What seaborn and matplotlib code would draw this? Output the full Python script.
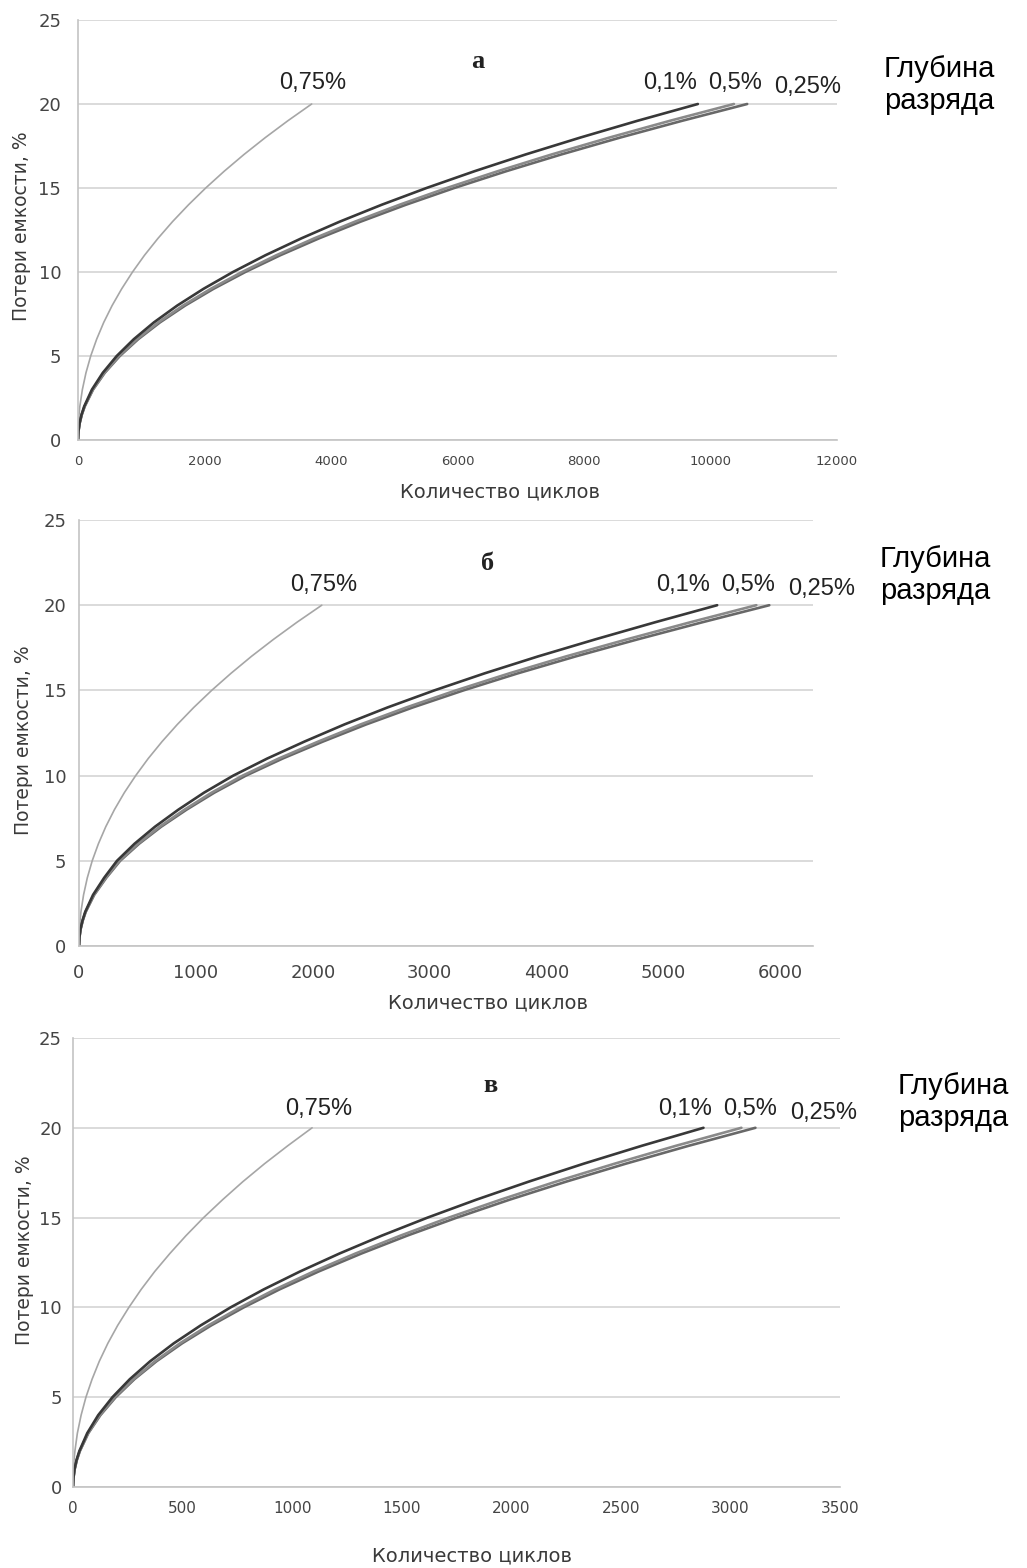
import numpy as np
import pandas as pd
import matplotlib
matplotlib.use("Agg")
import matplotlib.pyplot as plt
import seaborn as sns

# capacity loss levels, % (shared by all curves)
loss_levels = [0, 0.5, 1, 1.5, 2, 3, 4, 5, 6, 7, 8, 9, 10, 11, 12, 13, 14, 15, 16, 17, 18, 19, 20]

# cycles needed to reach each loss level, panel "а"
a_cycles_01 = [0, 6, 25, 55, 98, 220, 392, 612, 882, 1200, 1568, 1985, 2450, 2965, 3530, 4140, 4800, 5510, 6270, 7080, 7940, 8845, 9800]
a_cycles_05 = [0, 6.5, 26, 58, 104, 233, 415, 648, 933, 1270, 1659, 2100, 2593, 3137, 3733, 4381, 5081, 5831, 6637, 7492, 8400, 9359, 10370]
a_cycles_025 = [0, 6.6, 26, 59, 106, 238, 423, 661, 952, 1296, 1693, 2143, 2645, 3200, 3809, 4470, 5182, 5949, 6771, 7644, 8570, 9551, 10580]
a_cycles_075 = [0, 1.6, 6.9, 16, 29, 69, 126, 201, 295, 407, 539, 691, 862, 1052, 1264, 1495, 1747, 2019, 2312, 2626, 2961, 3317, 3694]

# panel "б"
b_cycles_01 = [0, 3.3, 13, 30, 53, 120, 215, 325, 475, 650, 850, 1070, 1320, 1610, 1930, 2270, 2640, 3040, 3470, 3930, 4420, 4930, 5460]
b_cycles_05 = [0, 3.5, 14, 32, 56, 127, 228, 345, 504, 690, 902, 1135, 1400, 1708, 2048, 2408, 2801, 3225, 3682, 4170, 4690, 5231, 5795]
b_cycles_025 = [0, 3.6, 14, 32, 57, 130, 233, 352, 514, 703, 920, 1158, 1428, 1742, 2088, 2456, 2856, 3289, 3754, 4252, 4782, 5334, 5906]
b_cycles_075 = [0, 0.9, 3.9, 9, 16.5, 39, 71, 113, 166, 229, 303, 388, 485, 592, 711, 841, 982, 1135, 1300, 1476, 1665, 1865, 2077]

# panel "в"
c_cycles_01 = [0, 1.8, 7, 16, 29, 65, 115, 180, 259, 352, 460, 583, 719, 870, 1036, 1216, 1410, 1618, 1841, 2079, 2330, 2596, 2877]
c_cycles_05 = [0, 1.9, 7.6, 17, 31, 69, 122, 191, 275, 374, 488, 618, 763, 922, 1098, 1289, 1495, 1715, 1952, 2203, 2471, 2752, 3050]
c_cycles_025 = [0, 1.9, 7.8, 17.5, 31, 70, 125, 195, 280, 381, 498, 631, 779, 942, 1121, 1316, 1526, 1752, 1993, 2250, 2522, 2810, 3114]
c_cycles_075 = [0, 0.5, 2, 4.7, 8.7, 20, 37, 59, 87, 120, 159, 204, 255, 311, 373, 442, 516, 596, 683, 775, 874, 980, 1091]

panel_letters = ["а", "б", "в"]
depth_labels = ["0,1%", "0,5%", "0,25%", "0,75%"]
y_ticks = [0, 5, 10, 15, 20, 25]
a_x_ticks = [0, 2000, 4000, 6000, 8000, 10000, 12000]
b_x_ticks = [0, 1000, 2000, 3000, 4000, 5000, 6000]
c_x_ticks = [0, 500, 1000, 1500, 2000, 2500, 3000, 3500]

sns.set_style("white")
plt.rcParams["font.family"] = ["DejaVu Sans"]

W, H = 1027, 1568
fig = plt.figure(figsize=(W / 100, H / 100), dpi=100)

def px_box(left, right, top, bottom):
    return [left / W, 1 - bottom / H, (right - left) / W, (bottom - top) / H]

panels = [
    dict(box=px_box(78, 837, 20, 440), xmax=12000, xticks=a_x_ticks, xfs=9.5, xpad=11, ypad=12,
         data=[a_cycles_01, a_cycles_05, a_cycles_025, a_cycles_075],
         letter=(478, 62), lab_y=83, lab_x=[313, 670, 735, 808], depth=(939, 85),
         xlab=(500, 492), ylab=(22, 226)),
    dict(box=px_box(79, 813, 520, 946), xmax=6280, xticks=b_x_ticks, xfs=13, xpad=13, ypad=9,
         data=[b_cycles_01, b_cycles_05, b_cycles_025, b_cycles_075],
         letter=(488, 563), lab_y=585, lab_x=[324, 683, 748, 822], depth=(935, 575),
         xlab=(488, 1003), ylab=(24, 740)),
    dict(box=px_box(73, 840, 1038, 1487), xmax=3500, xticks=c_x_ticks, xfs=11, xpad=10, ypad=8,
         data=[c_cycles_01, c_cycles_05, c_cycles_025, c_cycles_075],
         letter=(490, 1085), lab_y=1109, lab_x=[319, 685, 750, 824], depth=(953, 1102),
         xlab=(472, 1556), ylab=(25, 1250)),
]

# line styles: 0.1% dark, 0.5% / 0.25% mid grey, 0.75% light grey
line_colors = ["#383838", "#8a8a8a", "#686868", "#a6a6a6"]
line_widths = [1.9, 1.9, 1.9, 1.2]
draw_order = [3, 2, 1, 0]

for p, letter in zip(panels, panel_letters):
    ax = fig.add_axes(p["box"])
    for i in draw_order:
        df = pd.DataFrame({"cycles": p["data"][i], "loss": loss_levels})
        sns.lineplot(data=df, x="cycles", y="loss", ax=ax, color=line_colors[i],
                     linewidth=line_widths[i], estimator=None, sort=False)
    ax.set_xlim(0, p["xmax"])
    ax.set_ylim(0, 25)
    ax.set_xticks(p["xticks"])
    ax.set_yticks(y_ticks)
    ax.set_xlabel("")
    ax.set_ylabel("")
    ax.yaxis.grid(True, color="#d4d4d4", linewidth=1.2)
    ax.xaxis.grid(False)
    for s in ["top", "right"]:
        ax.spines[s].set_visible(False)
    for s in ["left", "bottom"]:
        ax.spines[s].set_color("#c4c4c4")
        ax.spines[s].set_linewidth(1.2)
    ax.tick_params(axis="x", length=0, labelsize=p["xfs"], pad=p["xpad"], labelcolor="#444444")
    ax.tick_params(axis="y", length=0, labelsize=13, pad=p["ypad"], labelcolor="#444444")

    # labels in figure pixel coordinates
    fx = lambda x: x / W
    fy = lambda y: 1 - y / H
    fig.text(fx(p["letter"][0]), fy(p["letter"][1]), letter, family="Liberation Serif",
             fontweight="bold", fontsize=19, ha="center", va="center", color="#222222")
    order = [3, 0, 1, 2]
    for k, idx in enumerate(order):
        yy = p["lab_y"] + (4 if idx == 2 else 0)
        fig.text(fx(p["lab_x"][k]), fy(yy), depth_labels[idx], family="Liberation Sans",
                 fontsize=17, ha="center", va="center", color="#222222")
    fig.text(fx(p["depth"][0]), fy(p["depth"][1]), "Глубина\nразряда", family="Liberation Sans",
             fontsize=21, ha="center", va="center", linespacing=1.2, color="black")
    fig.text(fx(p["xlab"][0]), fy(p["xlab"][1]), "Количество циклов", fontsize=14,
             ha="center", va="center", color="#3a3a3a")
    fig.text(fx(p["ylab"][0]), fy(p["ylab"][1]), "Потери емкости, %", fontsize=13.5,
             ha="center", va="center", rotation=90, color="#3a3a3a")

fig.savefig("out.png", dpi=100, facecolor="white")
